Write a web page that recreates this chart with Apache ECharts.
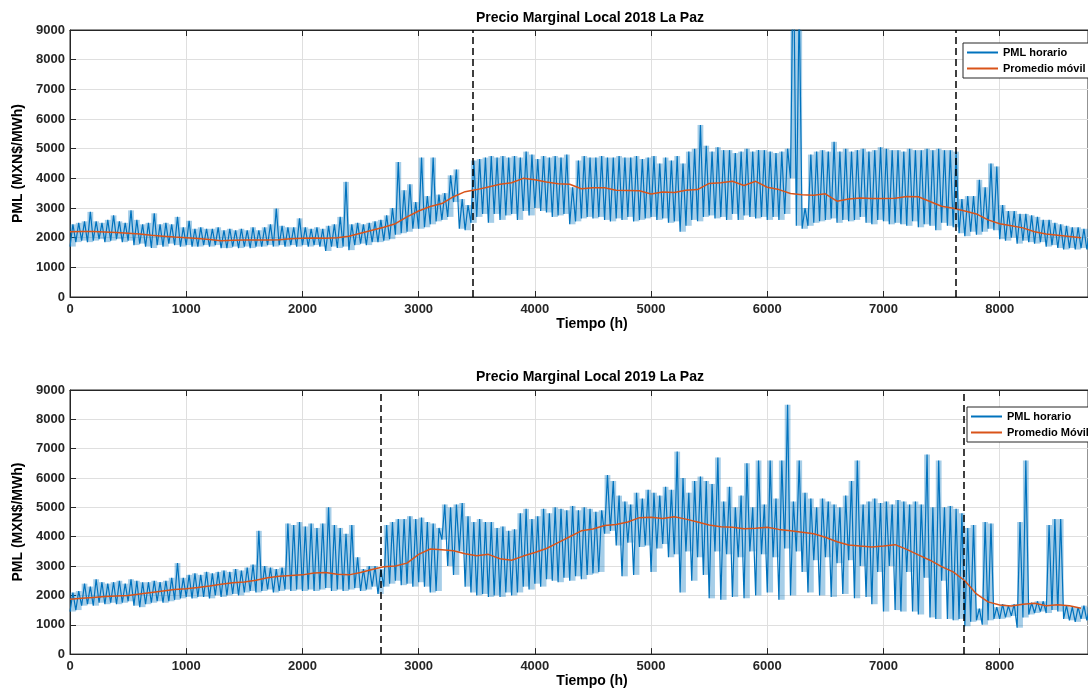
<!DOCTYPE html>
<html>
<head>
<meta charset="utf-8">
<title>PML La Paz</title>
<script src="https://cdn.jsdelivr.net/npm/echarts@6/dist/echarts.min.js"></script>
<style>
  html, body { margin: 0; padding: 0; background: #fff; }
  #main { width: 1088px; height: 689px; }
</style>
</head>
<body>
<div id="main"></div>
<script>
// PML horario: minimo y maximo de cada bloque de 50 h
var paso = 50;
var bajo2018 = [
  1700,1850,1900,1850,1900,1950,1850,1900,1950,1850,
  1900,1750,1800,1700,1650,1750,1700,1800,1750,1700,
  1750,1700,1700,1750,1700,1750,1650,1650,1700,1650,
  1700,1650,1700,1700,1750,1700,1750,1700,1750,1700,
  1750,1700,1750,1700,1550,1700,1650,1700,1580,1750,
  1800,1750,1850,1850,1900,1950,2100,2150,2200,2300,
  2300,2350,2450,2550,2600,2700,3200,2300,2250,2500,
  2700,2800,2500,2800,2600,2750,2800,2600,2900,2750,
  3000,2900,2850,2700,2750,2800,2450,2550,2650,2700,
  2650,2700,2600,2550,2650,2600,2700,2550,2600,2650,
  2700,2600,2650,2500,2550,2200,2400,2600,2550,2700,
  2750,2650,2700,2600,2800,2600,2750,2700,2650,2700,
  2600,2700,2600,2800,4000,2400,2300,2400,2500,2550,
  2600,2650,2500,2600,2550,2600,2700,2500,2450,2600,
  2550,2450,2500,2450,2400,2550,2350,2450,2400,2250,
  2500,2400,2350,2150,2050,2200,2100,2200,2300,2250,
  1950,1900,2000,1800,1900,1850,1800,1850,1700,1750,
  1650,1600,1650,1600,1650,1600
];
var alto2018 = [
  2450,2500,2550,2870,2550,2500,2600,2750,2550,2500,
  2920,2600,2450,2500,2820,2450,2500,2450,2700,2350,
  2570,2300,2350,2300,2300,2350,2250,2300,2250,2300,
  2250,2350,2250,2350,2450,2980,2400,2350,2350,2650,
  2350,2300,2350,2300,2400,2450,2700,3880,2450,2500,
  2450,2500,2550,2600,2750,3000,4550,3600,3800,3200,
  4700,3400,4700,3450,3500,4100,4300,3300,3100,4600,
  4650,4700,4750,4700,4750,4700,4750,4700,4900,4800,
  4650,4750,4700,4750,4700,4800,3700,4600,4750,4700,
  4700,4750,4700,4700,4750,4700,4700,4750,4650,4700,
  4750,4500,4700,4600,4750,4500,4900,5000,5800,5100,
  4900,5050,4950,4950,4850,4900,5000,4900,4950,4950,
  4900,4850,4900,5000,12000,10000,3000,4800,4900,4950,
  4900,5230,4900,5000,4900,4950,5000,4900,4950,5050,
  5000,4950,4950,4900,5000,4950,4950,5000,4950,5000,
  4950,4950,4900,3300,3400,3400,3950,3700,4500,4400,
  3100,2900,2900,2800,2800,2750,2700,2600,2600,2500,
  2450,2400,2350,2350,2300,2300
];
var bajo2019 = [
  1450,1500,1650,1700,1650,1750,1700,1750,1700,1750,
  1800,1650,1600,1700,1750,1800,1750,1800,1850,1900,
  1950,1900,1950,1950,1900,2000,1950,2000,2050,2000,
  2100,2150,2100,2150,2200,2100,2150,2200,2150,2200,
  2150,2200,2150,2200,2250,2150,2200,2150,2200,2250,
  2150,2200,2300,2050,2300,2400,2500,2350,2400,2300,
  2450,2300,2100,2150,3900,3000,2700,3500,2300,2100,
  2000,2050,1950,2000,1950,2100,2000,2100,2300,2200,
  2400,2300,2550,2500,2450,2600,2500,2650,2550,2700,
  2750,2800,4100,4200,3700,2650,3800,2700,3650,3700,
  2800,3600,3750,3300,3400,2100,3500,2500,3300,2700,
  1900,3500,1850,3400,1950,3300,1900,3500,2000,3400,
  2100,3300,1850,3600,2000,3500,2800,2100,3200,2000,
  3300,1950,3100,2050,3200,1900,3000,1950,1700,2800,
  1450,3000,1500,1450,2800,1450,1350,2600,1250,1200,
  2500,1200,1150,1200,950,1100,1150,1000,1150,1200,
  1200,1250,1300,900,1250,1350,1400,1450,1400,1500,
  1450,1200,1150,1100,1200,1150
];
var alto2019 = [
  2100,2150,2400,2300,2550,2450,2400,2450,2500,2400,
  2550,2500,2450,2450,2500,2450,2500,2600,3100,2600,
  2700,2750,2700,2800,2750,2800,2850,2800,2900,2850,
  2950,3050,4200,3000,2950,2900,2950,4450,4400,4500,
  4350,4450,4300,4450,5000,4400,4300,4100,4400,3300,
  2900,3000,3000,2900,4400,4500,4600,4600,4700,4600,
  4650,4500,4450,4300,5100,5000,5100,5150,4700,4500,
  4600,4500,4500,4300,4350,4200,4250,4800,4950,4600,
  4700,4950,4800,5000,4950,4900,5050,4900,5000,4950,
  4850,4900,6100,5900,5400,5200,5100,5500,5300,5600,
  5500,5400,5700,5600,6900,6000,5500,5900,6050,5900,
  5800,6700,5200,5700,5000,5400,6500,5000,6600,5100,
  6600,5300,6600,8500,5200,6600,5500,5300,5000,5300,
  5200,5100,5000,5400,5900,6600,5100,5200,5300,5150,
  5200,5100,5250,5200,5100,5200,5100,6800,5000,6600,
  5000,5050,4950,4800,4300,4400,1550,4500,4450,1600,
  1700,1650,1700,4500,6600,1750,1800,1800,4400,4600,
  4600,1650,1600,1600,1650,1600
];

// promedio movil, cada 100 h
var pasoProm = 100;
var prom2018 = [
  2200,2210,2210,2190,2170,2150,2120,2080,2050,2020,
  2000,1970,1940,1900,1910,1920,1920,1920,1930,1960,
  1980,1990,1980,2000,2050,2150,2250,2350,2470,2700,
  2900,3050,3150,3380,3550,3620,3710,3800,3850,4000,
  3950,3880,3820,3800,3650,3680,3680,3600,3590,3580,
  3470,3540,3520,3600,3620,3830,3850,3900,3760,3900,
  3700,3620,3490,3450,3430,3480,3230,3300,3340,3320,
  3320,3330,3390,3380,3220,3060,2990,2900,2800,2600,
  2470,2400,2330,2200,2120,2080,2040,2000
];
var prom2019 = [
  1870,1900,1930,1960,1980,2000,2050,2100,2150,2200,
  2230,2270,2320,2380,2430,2460,2520,2600,2650,2680,
  2700,2760,2780,2720,2700,2780,2880,2980,3000,3100,
  3400,3580,3560,3520,3420,3350,3400,3250,3200,3340,
  3460,3600,3800,4000,4200,4260,4380,4420,4500,4650,
  4660,4620,4680,4600,4500,4400,4340,4320,4270,4290,
  4320,4250,4200,4150,4100,3980,3830,3720,3680,3650,
  3680,3730,3570,3380,3200,2980,2800,2500,2050,1780,
  1670,1640,1700,1730,1650,1680,1650,1560
];

// lineas verticales punteadas (h)
var cortes2018 = [3462, 7624];
var cortes2019 = [2672, 7692];

var titulos = ['Precio Marginal Local 2018 La Paz', 'Precio Marginal Local 2019 La Paz'];
var nombresProm = ['Promedio móvil', 'Promedio Móvil'];

var azul = '#0072BD';
var naranja = '#D95319';
var negro = '#262626';
var fuente = '"Liberation Sans", Arial, Helvetica, sans-serif';

// serie en zigzag: minimo y maximo alternados
function zigzag(bajo, alto) {
    var pts = [];
    for (var i = 0; i < bajo.length; i++) {
        pts.push([i * paso, bajo[i]]);
        pts.push([i * paso + paso / 2, alto[i]]);
    }
    return pts;
}
function serieProm(prom) {
    return prom.map(function (v, i) { return [i * pasoProm, v]; });
}

var myChart = echarts.init(document.getElementById('main'), null, {renderer: 'canvas'});

var grids = [
    {left: 70, top: 30, right: -8, height: 267},
    {left: 70, top: 390, right: -8, height: 266}
];

function sinComas(v) { return String(v); }

function ejeX(idx, abajo) {
    return {
        type: 'value', gridIndex: idx, min: 0, max: 8760, interval: 1000,
        position: abajo ? 'bottom' : 'top',
        name: abajo ? 'Tiempo (h)' : '',
        nameLocation: 'middle', nameGap: 18,
        nameTextStyle: {fontFamily: fuente, fontWeight: 'bold', fontSize: 14, color: '#000', padding: [0, 0, 0, 26]},
        axisLine: {show: true, lineStyle: {color: negro, width: 1}},
        axisTick: {show: true, inside: true, length: 6, lineStyle: {color: negro}},
        axisLabel: {show: abajo, showMaxLabel: false, margin: 6, formatter: sinComas,
                    fontFamily: fuente, fontWeight: 'bold', fontSize: 13, color: negro},
        splitLine: {show: abajo, lineStyle: {color: '#dfdfdf', width: 1}}
    };
}
function ejeY(idx) {
    return {
        type: 'value', gridIndex: idx, min: 0, max: 9000, interval: 1000,
        name: 'PML (MXN$/MWh)', nameLocation: 'middle', nameGap: 40,
        nameTextStyle: {fontFamily: fuente, fontWeight: 'bold', fontSize: 14, color: '#000'},
        axisLine: {show: true, lineStyle: {color: negro, width: 1}},
        axisTick: {show: true, inside: true, length: 6, lineStyle: {color: negro}},
        axisLabel: {margin: 5, formatter: sinComas, fontFamily: fuente, fontWeight: 'bold', fontSize: 13, color: negro},
        splitLine: {show: true, lineStyle: {color: '#dfdfdf', width: 1}}
    };
}
function marcas(cortes) {
    return {
        symbol: 'none', silent: true, animation: false,
        label: {show: false},
        lineStyle: {color: '#000', type: [7, 4], width: 1.5},
        data: cortes.map(function (c) { return {xAxis: c}; })
    };
}
function leyenda(top, left, nombreProm) {
    return {
        orient: 'vertical', top: top, left: left,
        data: ['PML horario', nombreProm],
        icon: 'rect', itemWidth: 31, itemHeight: 2, itemGap: 3,
        padding: [3, 30, 3, 4],
        backgroundColor: '#fff', borderColor: negro, borderWidth: 1, borderRadius: 0,
        textStyle: {fontFamily: fuente, fontWeight: 'bold', fontSize: 11, color: '#000', lineHeight: 13}
    };
}
// banda sombreada: un rectangulo por bloque, del minimo al maximo
function banda(idx, bajo, alto) {
    return {
        name: 'banda' + idx, type: 'custom', xAxisIndex: idx, yAxisIndex: idx,
        silent: true, z: 1,
        data: bajo.map(function (v, i) { return [i * paso, v, alto[i]]; }),
        encode: {x: 0, y: [1, 2]},
        renderItem: function (params, api) {
            var x0 = api.value(0);
            var pa = api.coord([x0, api.value(2)]);
            var pb = api.coord([x0 + paso, api.value(1)]);
            var r = echarts.graphic.clipRectByRect(
                {x: pa[0], y: pa[1], width: pb[0] - pa[0], height: pb[1] - pa[1]},
                {x: params.coordSys.x, y: params.coordSys.y,
                 width: params.coordSys.width, height: params.coordSys.height});
            return r && {type: 'rect', shape: r, style: {fill: azul, opacity: 0.35}};
        }
    };
}

var series = [
    banda(0, bajo2018, alto2018),
    {name: 'PML horario', type: 'line', xAxisIndex: 0, yAxisIndex: 0,
     data: zigzag(bajo2018, alto2018), showSymbol: false, symbol: 'none',
     lineStyle: {color: azul, width: 1.2}, itemStyle: {color: azul}, clip: true, z: 2},
    {name: nombresProm[0], type: 'line', xAxisIndex: 0, yAxisIndex: 0,
     data: serieProm(prom2018), showSymbol: false, symbol: 'none',
     lineStyle: {color: naranja, width: 1.5}, itemStyle: {color: naranja}, z: 3,
     markLine: marcas(cortes2018)},
    banda(1, bajo2019, alto2019),
    {name: 'PML horario', type: 'line', xAxisIndex: 1, yAxisIndex: 1,
     data: zigzag(bajo2019, alto2019), showSymbol: false, symbol: 'none',
     lineStyle: {color: azul, width: 1.2}, itemStyle: {color: azul}, clip: true, z: 2},
    {name: nombresProm[1], type: 'line', xAxisIndex: 1, yAxisIndex: 1,
     data: serieProm(prom2019), showSymbol: false, symbol: 'none',
     lineStyle: {color: naranja, width: 1.5}, itemStyle: {color: naranja}, z: 3,
     markLine: marcas(cortes2019)}
];

var option = {
    animation: false,
    backgroundColor: '#fff',
    title: [
        {text: titulos[0], left: 585, top: 6, textAlign: 'center',
         textStyle: {fontFamily: fuente, fontWeight: 'bold', fontSize: 14, color: '#000'}},
        {text: titulos[1], left: 585, top: 365, textAlign: 'center',
         textStyle: {fontFamily: fuente, fontWeight: 'bold', fontSize: 14, color: '#000'}}
    ],
    legend: [leyenda(43, 963, nombresProm[0]), leyenda(407, 967, nombresProm[1])],
    grid: grids.map(function (g) {
        return Object.assign({show: true, borderColor: negro, borderWidth: 1, containLabel: false}, g);
    }),
    xAxis: [ejeX(0, true), ejeX(1, true), ejeX(0, false), ejeX(1, false)],
    yAxis: [ejeY(0), ejeY(1)],
    series: series
};

myChart.setOption(option);
</script>
</body>
</html>
